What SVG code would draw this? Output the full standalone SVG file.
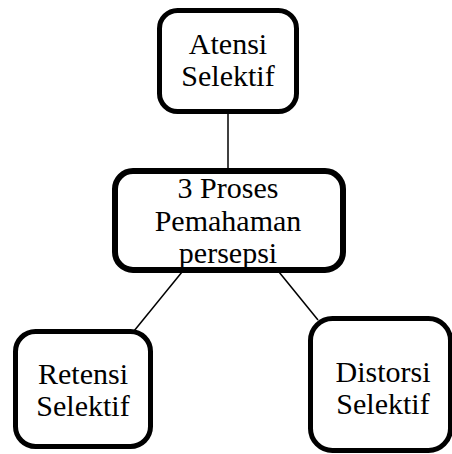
<svg xmlns="http://www.w3.org/2000/svg" width="452" height="454" viewBox="0 0 452 454">
<style>
.box{fill:#fff;stroke:#000;stroke-width:5}
.c{stroke:#000;stroke-width:1.5;fill:none}
text{font-family:'Liberation Serif','Times New Roman',serif;font-size:30px;text-anchor:middle;fill:#000}
</style>
<rect width="452" height="454" fill="#fff"/>
<g id="connectors">
<line class="c" x1="228" y1="112" x2="228" y2="170"/>
<line class="c" x1="182" y1="272" x2="134" y2="331"/>
<line class="c" x1="279" y1="272" x2="318" y2="320"/>
</g>
<g id="atensi">
<rect class="box" x="159.5" y="10.5" width="137" height="101" rx="18"/>
<text x="228" y="54">Atensi</text>
<text x="228" y="86">Selektif</text>
</g>
<g id="proses">
<rect class="box" x="115" y="171" width="228" height="99" rx="18" style="stroke-width:6"/>
<text x="228" y="198">3 Proses</text>
<text x="228" y="231">Pemahaman</text>
<text x="228" y="263">persepsi</text>
</g>
<g id="retensi">
<rect class="box" x="15.5" y="331.5" width="135" height="115" rx="20"/>
<text x="83" y="384">Retensi</text>
<text x="83" y="416">Selektif</text>
</g>
<g id="distorsi">
<rect class="box" x="310.5" y="318.5" width="140" height="132" rx="22"/>
<text x="383" y="382">Distorsi</text>
<text x="383" y="414">Selektif</text>
</g>
</svg>
